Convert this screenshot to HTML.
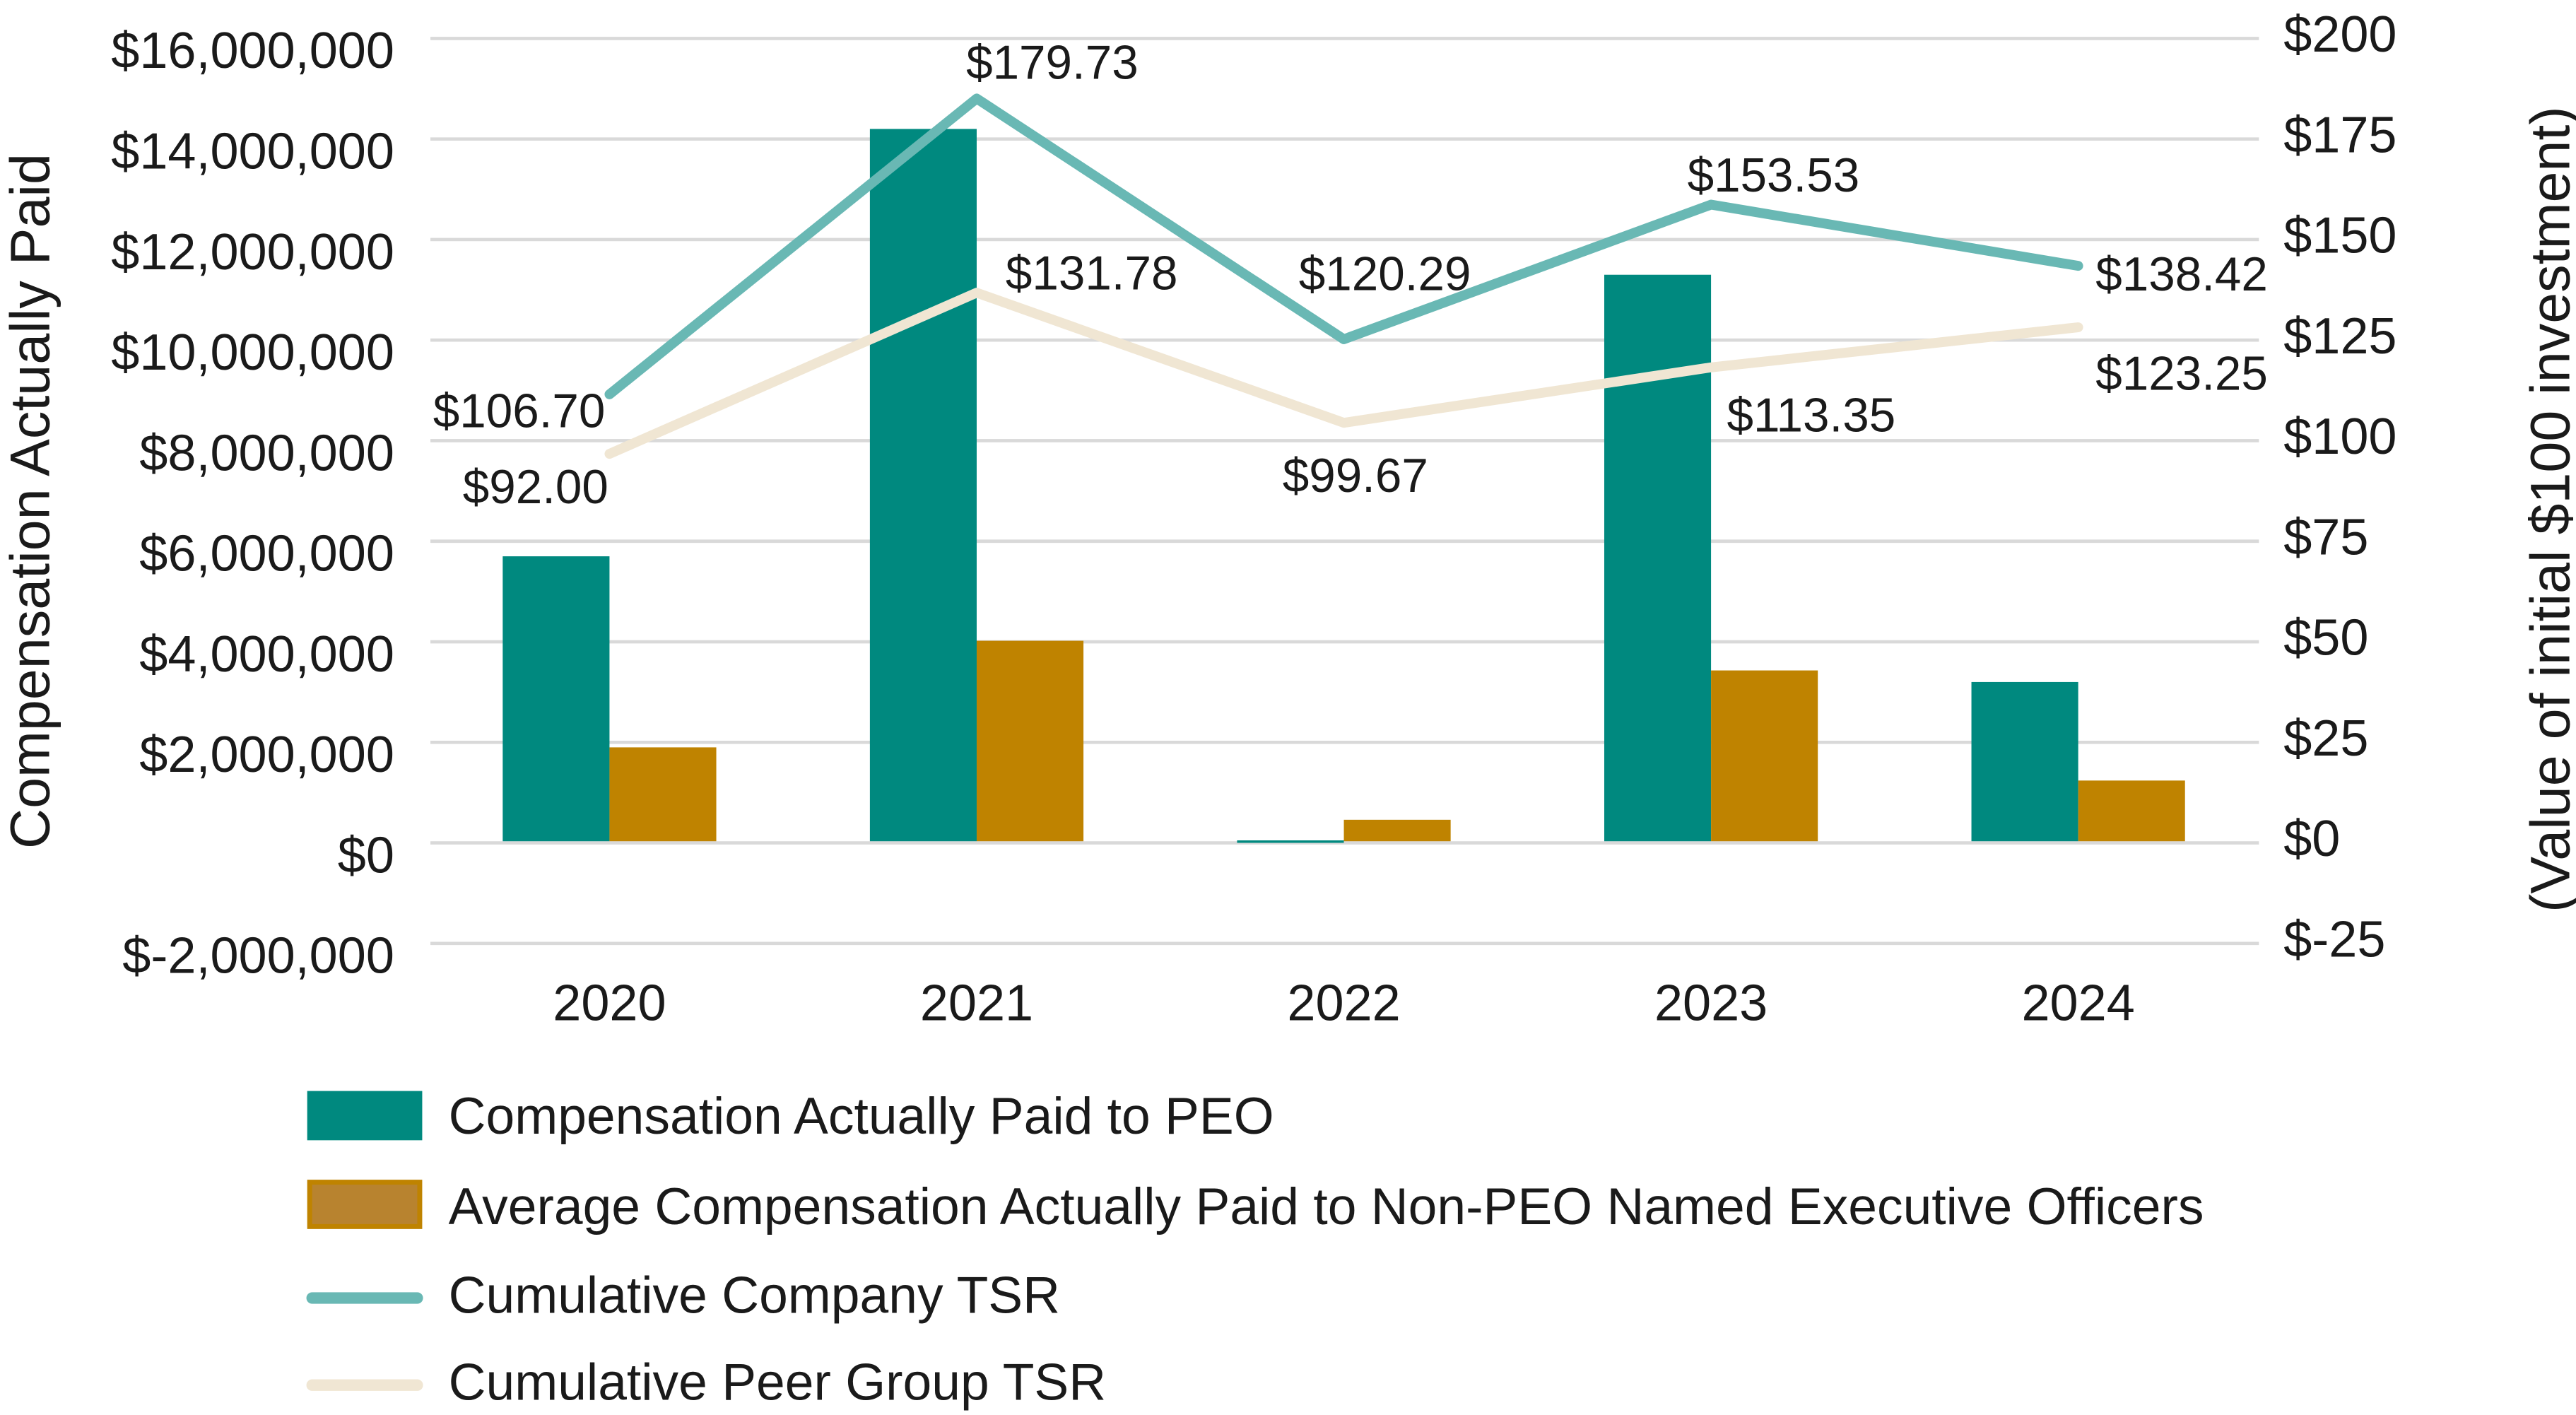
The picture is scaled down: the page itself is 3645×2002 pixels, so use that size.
<!DOCTYPE html>
<html><head><meta charset="utf-8"><style>
html,body{margin:0;padding:0;background:#fff;}
svg{display:block;}
text{font-family:"Liberation Sans",sans-serif;fill:#1a1a1a;}
</style></head><body>
<svg id="chart" width="3645" height="2002" viewBox="0 0 1568 861.2" preserveAspectRatio="none" xmlns="http://www.w3.org/2000/svg">
<g id="grid"></g><g id="bars"></g><g id="lines"></g><g id="labels"></g><g id="axes"></g>
<text transform="translate(30,305) rotate(-90)" text-anchor="middle" font-size="34">Compensation Actually Paid</text>
<text transform="translate(1564,310) rotate(-90)" text-anchor="middle" font-size="34">(Value of initial $100 investment)</text>
<g>
<rect x="187" y="664" width="70" height="30" fill="#00897f"/>
<text x="273" y="690" font-size="31.5">Compensation Actually Paid to PEO</text>
<rect x="188.5" y="719.5" width="67" height="27" fill="#b8832f" stroke="#bf8300" stroke-width="3"/>
<text x="273" y="745" font-size="31.5">Average Compensation Actually Paid to Non-PEO Named Executive Officers</text>
<line x1="190" y1="790" x2="254" y2="790" stroke="#69b8b4" stroke-width="7" stroke-linecap="round"/>
<text x="273" y="799" font-size="31.5">Cumulative Company TSR</text>
<line x1="190" y1="843" x2="254" y2="843" stroke="#f0e6d3" stroke-width="7" stroke-linecap="round"/>
<text x="273" y="852" font-size="31.5">Cumulative Peer Group TSR</text>
</g>
</svg>
<script>
const years = ["2020","2021","2022","2023","2024"];
const peoComp = [5700000, 14200000, 50000, 11300000, 3200000];
const neoComp = [1900000, 4020000, 460000, 3430000, 1240000];
const companyTSR = [106.70, 179.73, 120.29, 153.53, 138.42];
const peerTSR = [92.00, 131.78, 99.67, 113.35, 123.25];
const leftTicks = [-2000000,0,2000000,4000000,6000000,8000000,10000000,12000000,14000000,16000000];
const leftTickLabels = ["$-2,000,000","$0","$2,000,000","$4,000,000","$6,000,000","$8,000,000","$10,000,000","$12,000,000","$14,000,000","$16,000,000"];
const rightTickLabels = ["$-25","$0","$25","$50","$75","$100","$125","$150","$175","$200"];
const companyLabels = ["$106.70","$179.73","$120.29","$153.53","$138.42"];
const peerLabels = ["$92.00","$131.78","$99.67","$113.35","$123.25"];

const NS="http://www.w3.org/2000/svg";
function mk(tag,attrs,parent){const e=document.createElementNS(NS,tag);for(const k in attrs)e.setAttribute(k,attrs[k]);parent.appendChild(e);return e;}
const plotL=262, plotR=1375;
function yL(v){return 513 - v/2000000*61.2;}
function yR(v){return 503 - v*2.465;}
function xC(i){return 371 + i*223.5;}
const barW=65;

const grid=document.getElementById('grid');
leftTicks.forEach((t,i)=>{
  const l=mk('line',{x1:plotL,x2:plotR,y1:yL(t),y2:yL(t),stroke:'#d9d9d9','stroke-width':2},grid);
  
  
});
const axes=document.getElementById('axes');
leftTicks.forEach((t,i)=>{
  const tx=mk('text',{x:240,y:yL(t)+18,'text-anchor':'end','font-size':31},axes);
  tx.textContent=leftTickLabels[i];
  
  
  const r=mk('text',{x:1390,y:yL(t)+8,'font-size':31},axes);
  r.textContent=rightTickLabels[i];
  
  
});
years.forEach((yr,i)=>{
  const tx=mk('text',{x:xC(i),y:621,'text-anchor':'middle','font-size':31},axes);
  tx.textContent=yr;
  
  
});
const bars=document.getElementById('bars');
years.forEach((yr,i)=>{
  const y0=yL(0)-1;
  const y1=yL(peoComp[i]);
  const b=mk('rect',{x:xC(i)-barW,y:Math.min(y0,y1),width:barW,height:Math.max(1.5,Math.abs(y0-y1)),fill:'#00897f'},bars);
  
  
  const y2=yL(neoComp[i]);
  const c=mk('rect',{x:xC(i),y:Math.min(y0,y2),width:barW,height:Math.abs(y0-y2),fill:'#bf8300'},bars);
  
  
});
const lines=document.getElementById('lines');
function pts(arr){return arr.map((v,i)=>xC(i)+','+yR(v)).join(' ');}
const pl=mk('polyline',{points:pts(peerTSR),fill:'none',stroke:'#f0e6d3','stroke-width':6,'stroke-linecap':'round','stroke-linejoin':'round'},lines);


const cl=mk('polyline',{points:pts(companyTSR),fill:'none',stroke:'#69b8b4','stroke-width':6,'stroke-linecap':'round','stroke-linejoin':'round'},lines);



const labels=document.getElementById('labels');
const cOff=[[-55,20],[46,-12],[25,-30],[38,-8],[63,15]];
const pOff=[[-45,30],[70,-2],[7,42],[61,39],[63,38]];
companyTSR.forEach((v,i)=>{
  const t=mk('text',{x:xC(i)+cOff[i][0],y:yR(v)+cOff[i][1],'text-anchor':'middle','font-size':29},labels);
  t.textContent=companyLabels[i];
  
  
});
peerTSR.forEach((v,i)=>{
  const t=mk('text',{x:xC(i)+pOff[i][0],y:yR(v)+pOff[i][1],'text-anchor':'middle','font-size':29},labels);
  t.textContent=peerLabels[i];
  
  
});
</script>
</body></html>
